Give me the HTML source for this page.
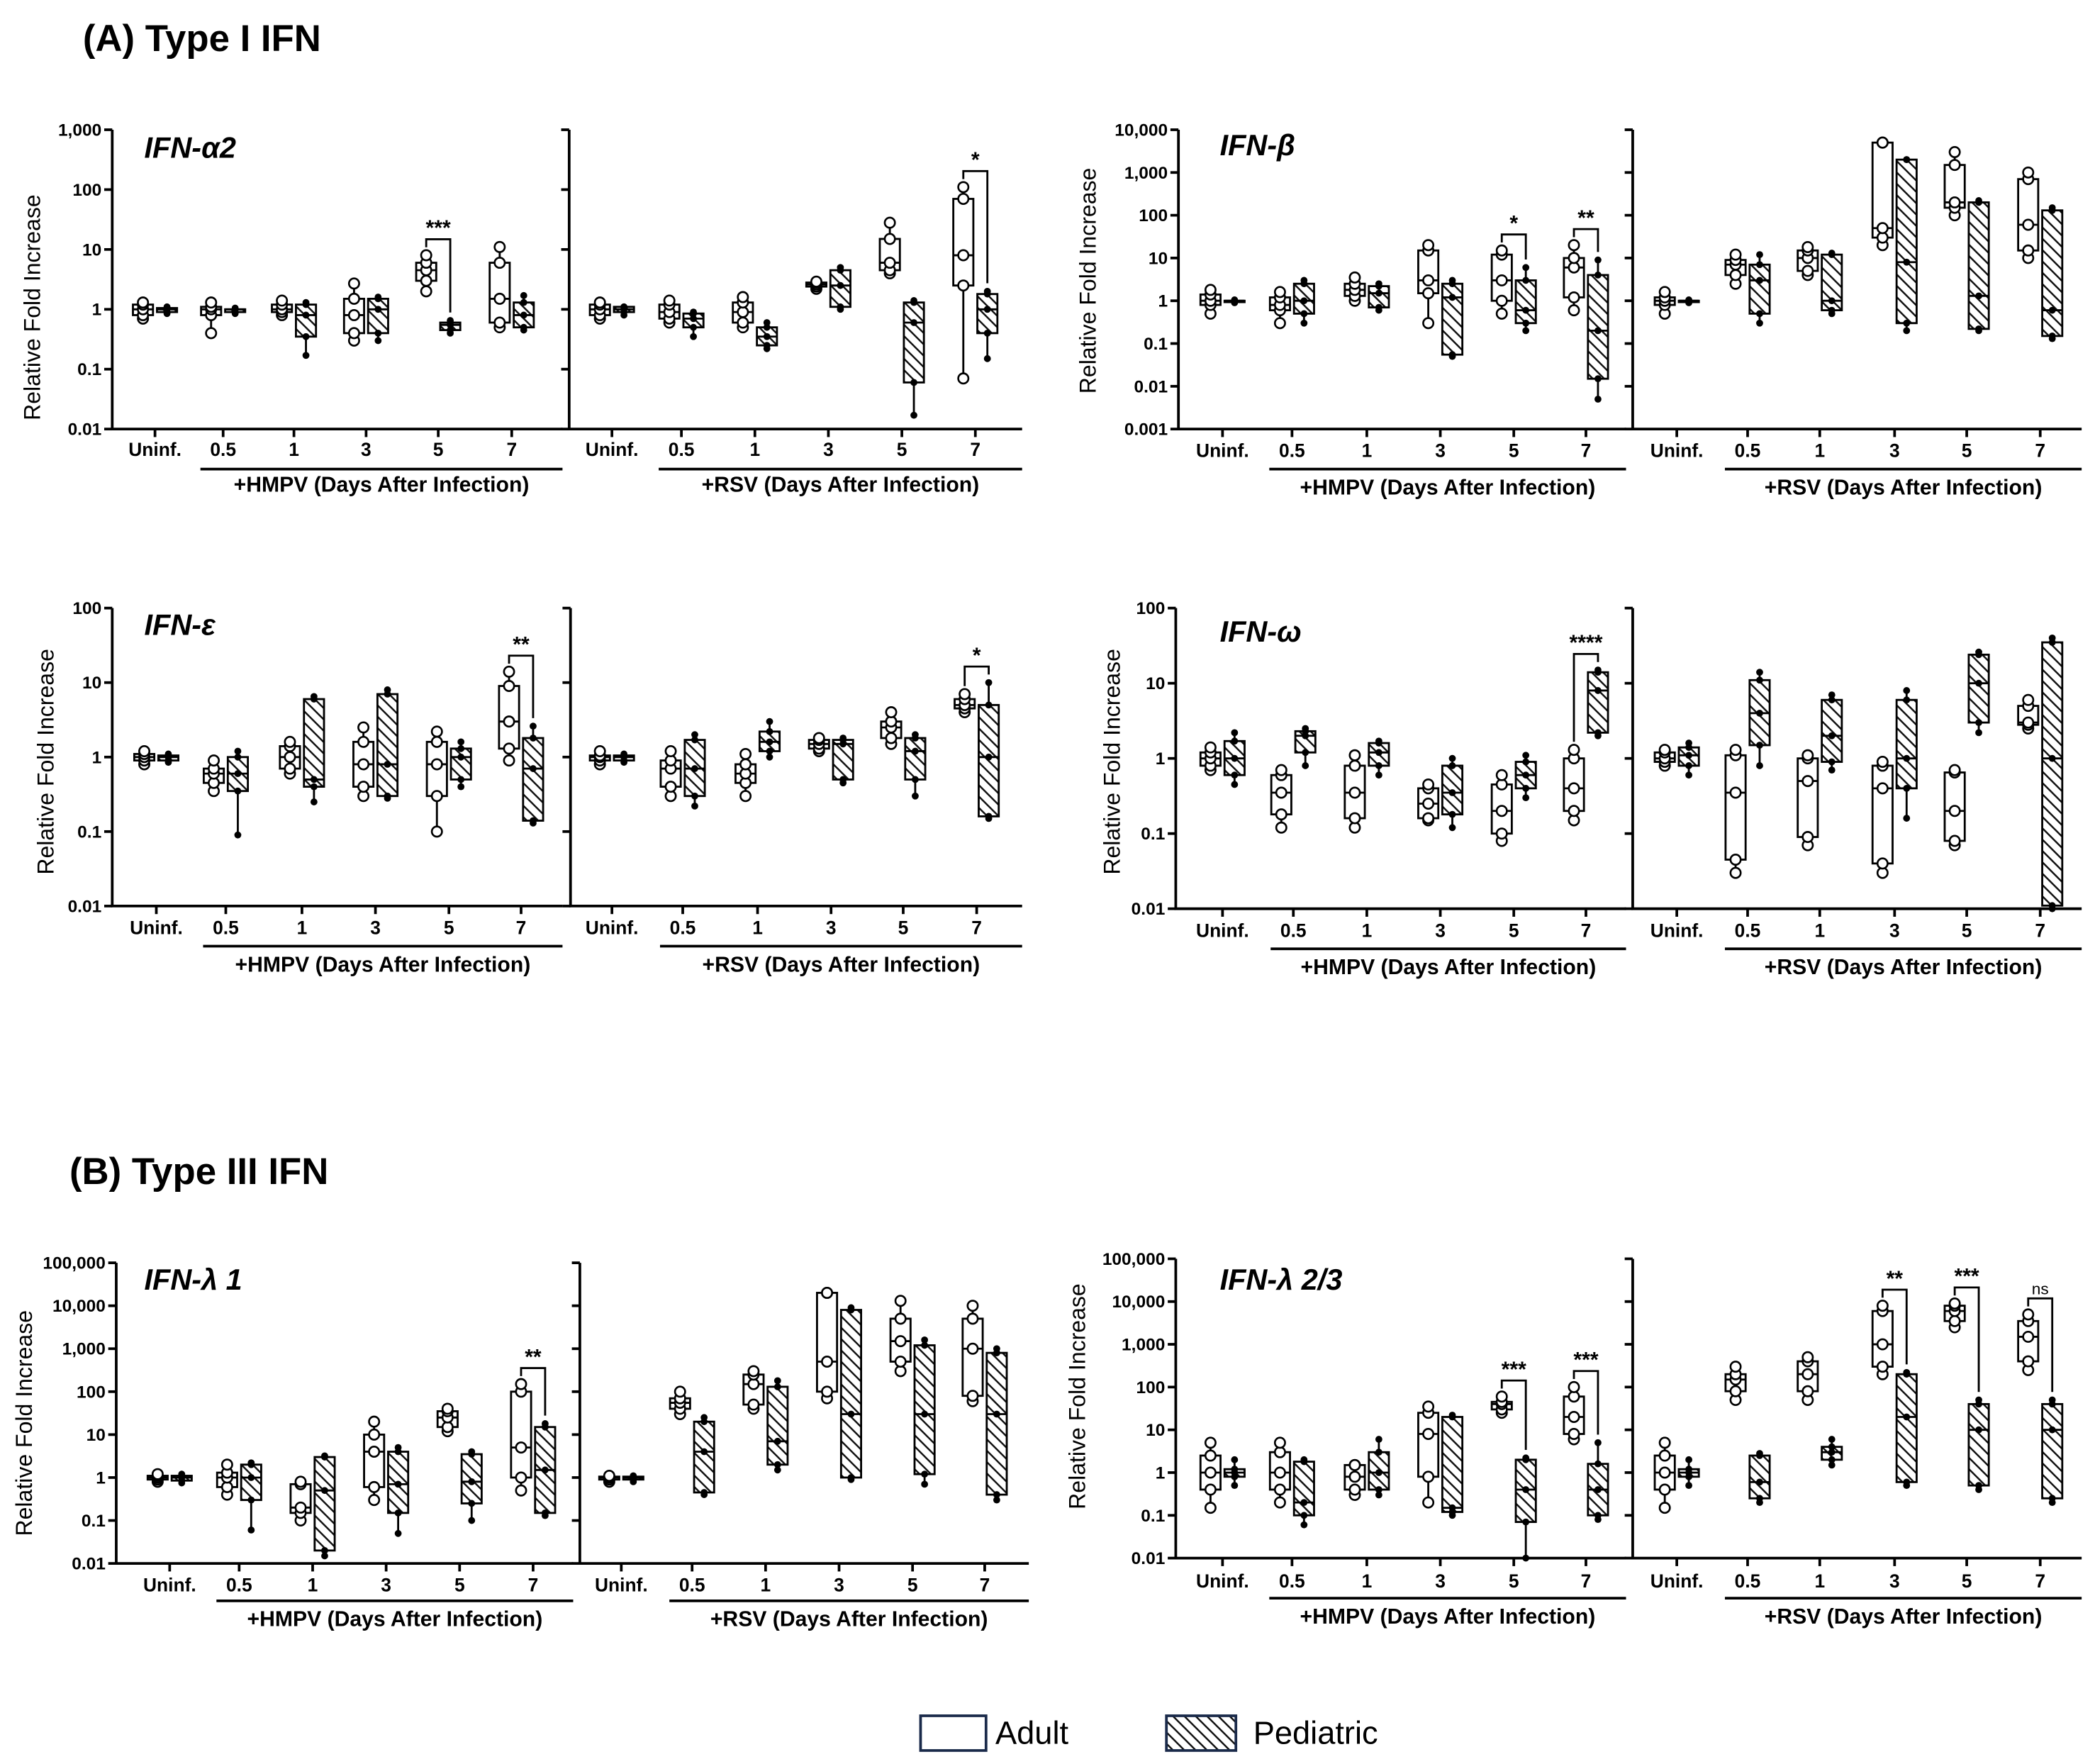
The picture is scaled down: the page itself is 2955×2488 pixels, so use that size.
<!DOCTYPE html>
<html><head><meta charset="utf-8">
<style>
html,body{margin:0;padding:0;background:#fff;}
svg{display:block;font-family:"Liberation Sans",Arial,sans-serif;}
</style></head>
<body>
<svg id="fig" width="2955" height="2488" viewBox="0 0 1568 1320" xmlns="http://www.w3.org/2000/svg">
<defs>
<pattern id="hatch" patternUnits="userSpaceOnUse" width="6" height="6" patternTransform="rotate(-45)">
<rect width="6" height="6" fill="#fff"/>
<line x1="0" y1="0" x2="0" y2="6" stroke="#111" stroke-width="2.6"/>
</pattern>
</defs>
<text x="62" y="38" font-size="28" font-weight="bold">(A)  Type I IFN</text>
<text x="52" y="886" font-size="28" font-weight="bold">(B) Type III IFN</text>
<g>
<rect x="689" y="1284" width="49" height="26" fill="#fff" stroke="#1a2a4a" stroke-width="2"/>
<text x="745" y="1305" font-size="24">Adult</text>
<rect x="873" y="1284" width="52" height="26" fill="url(#hatch)" stroke="#1a2a4a" stroke-width="2"/>
<text x="938" y="1305" font-size="24">Pediatric</text>
</g>
</svg>
<script>
const groups = ["Uninf.","0.5","1","3","5","7"];
// [min,q1,median,q3,max] per group
const a1HmpvAdult=[[0.7,0.8,1,1.2,1.3],[0.4,0.8,1,1.1,1.3],[0.8,0.9,1,1.2,1.4],[0.3,0.4,0.8,1.5,2.7],[2,3,4.5,6,8],[0.5,0.6,1.5,6,11]];
const a1HmpvPed=[[0.85,0.9,1,1.05,1.1],[0.85,0.9,1,1,1.05],[0.17,0.35,0.8,1.2,1.3],[0.3,0.4,1,1.5,1.6],[0.4,0.45,0.55,0.6,0.65],[0.45,0.5,0.8,1.3,1.7]];
const a1RsvAdult=[[0.7,0.8,1,1.2,1.3],[0.6,0.7,0.9,1.2,1.4],[0.5,0.6,0.9,1.3,1.6],[2.2,2.4,2.6,2.8,2.9],[4,4.5,6,15,28],[0.07,2.5,8,70,110]];
const a1RsvPed=[[0.8,0.9,1,1.1,1.1],[0.35,0.5,0.7,0.85,0.9],[0.22,0.25,0.35,0.5,0.6],[1,1.1,2.5,4.5,5],[0.017,0.06,0.6,1.3,1.4],[0.15,0.4,1,1.8,2]];
const a2HmpvAdult=[[0.5,0.8,1,1.4,1.8],[0.3,0.6,0.8,1.2,1.6],[1,1.3,1.8,2.5,3.5],[0.3,1.5,3,15,20],[0.5,1,3,12,15],[0.6,1.2,6,10,20]];
const a2HmpvPed=[[0.9,0.95,1,1,1.05],[0.3,0.5,1,2.5,3],[0.6,0.7,1.5,2.2,2.5],[0.05,0.055,1.2,2.5,3],[0.2,0.3,0.6,3,6],[0.005,0.015,0.2,4,9]];
const a2RsvAdult=[[0.5,0.8,1,1.2,1.6],[2.5,4,7,9,12],[4,5,10,15,18],[20,30,50,5000,5000],[100,150,200,1500,3000],[10,15,60,700,1000]];
const a2RsvPed=[[0.9,0.95,1,1,1.05],[0.3,0.5,3,7,12],[0.5,0.6,1,12,13],[0.2,0.3,8,2000,2000],[0.2,0.22,1.3,200,220],[0.13,0.15,0.6,130,150]];
const a3HmpvAdult=[[0.8,0.9,1,1.1,1.2],[0.35,0.45,0.6,0.7,0.9],[0.6,0.7,1,1.4,1.6],[0.3,0.4,0.8,1.6,2.5],[0.1,0.3,0.8,1.6,2.2],[0.9,1.3,3,9,14]];
const a3HmpvPed=[[0.85,0.9,1,1.05,1.1],[0.09,0.35,0.6,1,1.2],[0.25,0.4,0.5,6,6.5],[0.28,0.3,0.8,7,8],[0.4,0.5,1,1.3,1.6],[0.13,0.14,0.7,1.8,2.6]];
const a3RsvAdult=[[0.8,0.9,1,1.05,1.2],[0.3,0.4,0.7,0.9,1.2],[0.3,0.45,0.6,0.8,1.1],[1.2,1.3,1.5,1.7,1.8],[1.5,1.8,2.5,3,4],[4,4.5,5,6,7]];
const a3RsvPed=[[0.85,0.9,1,1.05,1.1],[0.22,0.3,0.7,1.7,2],[1,1.2,1.6,2.2,3],[0.45,0.5,1.5,1.7,1.8],[0.3,0.5,1.2,1.8,2],[0.15,0.16,1,5,10]];
const a4HmpvAdult=[[0.7,0.8,1,1.2,1.4],[0.12,0.18,0.35,0.6,0.7],[0.12,0.16,0.35,0.8,1.1],[0.15,0.16,0.25,0.4,0.45],[0.08,0.1,0.2,0.45,0.6],[0.15,0.2,0.4,1,1.3]];
const a4HmpvPed=[[0.45,0.6,1,1.7,2.2],[0.8,1.2,2,2.3,2.5],[0.6,0.8,1.2,1.6,1.7],[0.12,0.18,0.35,0.8,1],[0.3,0.4,0.6,0.9,1.1],[2,2.2,8,14,15]];
const a4RsvAdult=[[0.8,0.9,1,1.2,1.3],[0.03,0.045,0.35,1.1,1.3],[0.07,0.09,0.5,1,1.1],[0.03,0.04,0.4,0.8,0.9],[0.07,0.08,0.2,0.65,0.7],[2.5,2.8,3,5,6]];
const a4RsvPed=[[0.6,0.8,1.1,1.4,1.6],[0.8,1.5,4,11,14],[0.7,0.9,2,6,7],[0.16,0.4,1,6,8],[2.2,3,10,24,26],[0.01,0.011,1,35,40]];
const b1HmpvAdult=[[0.8,0.9,1,1.1,1.2],[0.4,0.6,1,1.3,2],[0.1,0.15,0.2,0.7,0.8],[0.3,0.6,4,10,20],[12,15,25,35,40],[0.5,1,5,100,150]];
const b1HmpvPed=[[0.75,0.85,1,1.1,1.2],[0.06,0.3,1,2,2.2],[0.015,0.02,0.5,3,3.2],[0.05,0.15,0.7,4,5],[0.1,0.25,0.8,3.5,4],[0.13,0.15,1.5,15,18]];
const b1RsvAdult=[[0.8,0.9,1,1.05,1.1],[30,40,55,70,100],[40,50,150,250,300],[70,100,500,20000,20000],[300,500,1500,5000,13000],[60,80,1000,5000,10000]];
const b1RsvPed=[[0.8,0.9,1,1.05,1.1],[0.4,0.45,4,20,25],[1.5,2,7,130,180],[0.9,1,30,8000,9000],[0.7,1.2,30,1200,1600],[0.3,0.4,30,800,1000]];
const b2HmpvAdult=[[0.15,0.4,1,2.5,5],[0.2,0.4,1,3,5],[0.3,0.4,0.8,1.5,1.5],[0.2,0.8,8,25,35],[25,30,40,45,60],[6,8,20,60,100]];
const b2HmpvPed=[[0.5,0.8,1,1.2,2],[0.06,0.1,0.2,1.8,2],[0.3,0.4,1,3,6],[0.1,0.12,0.15,20,22],[0.01,0.07,0.4,2,2.2],[0.08,0.1,0.4,1.6,5]];
const b2RsvAdult=[[0.15,0.4,1,2.5,5],[50,80,150,200,300],[50,80,200,400,500],[200,300,1000,6000,8000],[2500,3500,6000,8000,9000],[250,400,1500,3500,5000]];
const b2RsvPed=[[0.5,0.8,1,1.2,2],[0.2,0.25,0.6,2.5,2.8],[1.5,2,3,4,6],[0.5,0.6,20,200,220],[0.4,0.5,10,40,50],[0.2,0.25,10,40,50]];
// significance annotations: [side, groupIndex, label]
const a1Sig=[["L",4,"***"],["R",5,"*"]];
const a2Sig=[["L",4,"*"],["L",5,"**"]];
const a3Sig=[["L",5,"**"],["R",5,"*"]];
const a4Sig=[["L",5,"****"]];
const b1Sig=[["L",5,"**"]];
const b2Sig=[["L",4,"***"],["L",5,"***"],["R",3,"**"],["R",4,"***"],["R",5,"ns"]];

const NS="http://www.w3.org/2000/svg";
const svg=document.getElementById('fig');
function mk(tag,attrs,parent){const e=document.createElementNS(NS,tag);for(const k in attrs)e.setAttribute(k,attrs[k]);(parent||svg).appendChild(e);return e;}
function fmt(e){const v=Math.pow(10,e);if(e<0)return v.toFixed(-e);return v.toLocaleString('en-US');}

const panels=[
 {id:"ifn-a2",title:"IFN-",greek:"α",suffix:"2",ax:84,rx:426,endL:421,endR:765,top:97,bot:321,minE:-2,maxE:3,
  catL:[116,167,220,274,328,383],catR:[458,510,565,620,675,730],labY:341,lineY:351,txtY:368,ytX:30,ytY:230,titleX:108,titleY:118,
  data:[a1HmpvAdult,a1HmpvPed,a1RsvAdult,a1RsvPed],sig:a1Sig},
 {id:"ifn-b",title:"IFN-",greek:"β",suffix:"",ax:882,rx:1222,endL:1217,endR:1558,top:97,bot:321,minE:-3,maxE:4,
  catL:[915,967,1023,1078,1133,1187],catR:[1255,1308,1362,1418,1472,1527],labY:342,lineY:351,txtY:370,ytX:820,ytY:210,titleX:913,titleY:116,
  data:[a2HmpvAdult,a2HmpvPed,a2RsvAdult,a2RsvPed],sig:a2Sig},
 {id:"ifn-e",title:"IFN-",greek:"ε",suffix:"",ax:84,rx:427,endL:421,endR:765,top:455,bot:678,minE:-2,maxE:2,
  catL:[117,169,226,281,336,390],catR:[458,511,567,622,676,731],labY:699,lineY:708,txtY:727,ytX:40,ytY:570,titleX:108,titleY:475,
  data:[a3HmpvAdult,a3HmpvPed,a3RsvAdult,a3RsvPed],sig:a3Sig},
 {id:"ifn-w",title:"IFN-",greek:"ω",suffix:"",ax:880,rx:1222,endL:1217,endR:1558,top:455,bot:680,minE:-2,maxE:2,
  catL:[915,968,1023,1078,1133,1187],catR:[1255,1308,1362,1418,1472,1527],labY:701,lineY:710,txtY:729,ytX:838,ytY:570,titleX:913,titleY:480,
  data:[a4HmpvAdult,a4HmpvPed,a4RsvAdult,a4RsvPed],sig:a4Sig},
 {id:"ifn-l1",title:"IFN-",greek:"λ",suffix:" 1",ax:87,rx:434,endL:429,endR:770,top:945,bot:1170,minE:-2,maxE:5,
  catL:[127,179,234,289,344,399],catR:[465,518,573,628,683,737],labY:1191,lineY:1198,txtY:1217,ytX:24,ytY:1065,titleX:108,titleY:965,
  data:[b1HmpvAdult,b1HmpvPed,b1RsvAdult,b1RsvPed],sig:b1Sig},
 {id:"ifn-l23",title:"IFN-",greek:"λ",suffix:" 2/3",ax:880,rx:1222,endL:1217,endR:1558,top:942,bot:1166,minE:-2,maxE:5,
  catL:[915,967,1023,1078,1133,1187],catR:[1255,1308,1362,1418,1472,1527],labY:1188,lineY:1196,txtY:1215,ytX:812,ytY:1045,titleX:913,titleY:965,
  data:[b2HmpvAdult,b2HmpvPed,b2RsvAdult,b2RsvPed],sig:b2Sig}
];

panels.forEach(p=>{
 const g=mk('g',{});
 
 
 const y=v=>{const e=Math.log10(Math.max(v,Math.pow(10,p.minE)));return p.bot-(e-p.minE)/(p.maxE-p.minE)*(p.bot-p.top);};
 const yt=mk('text',{x:p.ytX,y:p.ytY,'font-size':17,'text-anchor':'middle',transform:`rotate(-90 ${p.ytX} ${p.ytY})`},g);
 yt.textContent="Relative Fold Increase";
 
 
 const tt=mk('text',{x:p.titleX,y:p.titleY,'font-size':22,'font-weight':'bold','font-style':'italic'},g);
 tt.textContent=p.title+p.greek+p.suffix;
 
 
 [[p.ax,p.endL,true],[p.rx,p.endR,false]].forEach(([x0,x1,lab])=>{
  const ax=mk('path',{d:`M${x0},${p.top}V${p.bot}H${x1}`,stroke:'#000','stroke-width':2,fill:'none'},g);
  
  
  for(let e=p.minE;e<=p.maxE;e++){
   const yy=y(Math.pow(10,e));
   mk('line',{x1:x0-6,x2:x0,y1:yy,y2:yy,stroke:'#000','stroke-width':2},g);
   if(lab){const t=mk('text',{x:x0-8,y:yy+4.5,'font-size':13,'font-weight':'bold','text-anchor':'end'},g);t.textContent=fmt(e);
    
    }
  }
 });
 const sides=[{cats:p.catL,ad:p.data[0],pe:p.data[1],virus:"+HMPV (Days After Infection)",key:"L"},{cats:p.catR,ad:p.data[2],pe:p.data[3],virus:"+RSV (Days After Infection)",key:"R"}];
 sides.forEach(s=>{
  s.cats.forEach((cx,i)=>{
   mk('line',{x1:cx,x2:cx,y1:p.bot,y2:p.bot+6,stroke:'#000','stroke-width':2},g);
   const t=mk('text',{x:cx,y:p.labY,'font-size':14,'font-weight':'bold','text-anchor':'middle'},g);
   t.textContent=groups[i];
   
   
   [[s.ad[i],cx-9,'adult'],[s.pe[i],cx+9,'pediatric']].forEach(([st,bx,kind])=>{
    const bg=mk('g',{},g);
    
    
    const w=15;
    mk('line',{x1:bx,x2:bx,y1:y(st[0]),y2:y(st[4]),stroke:'#000','stroke-width':1.5},bg);
    mk('rect',{x:bx-w/2,y:y(st[3]),width:w,height:Math.max(1,y(st[1])-y(st[3])),fill:kind==='adult'?'#fff':'url(#hatch)',stroke:'#000','stroke-width':1.5},bg);
    mk('line',{x1:bx-w/2,x2:bx+w/2,y1:y(st[2]),y2:y(st[2]),stroke:'#000','stroke-width':1.5},bg);
    st.forEach(v=>{
     if(kind==='adult')mk('circle',{cx:bx,cy:y(v),r:3.8,fill:'#fff',stroke:'#000','stroke-width':1.4},bg);
     else mk('circle',{cx:bx,cy:y(v),r:2.6,fill:'#000'},bg);
    });
   });
  });
  const x0=s.cats[1]-17,x1=(s.key==='L'?p.endL:p.endR);
  mk('line',{x1:x0,x2:x1,y1:p.lineY,y2:p.lineY,stroke:'#000','stroke-width':2},g);
  const vt=mk('text',{x:(x0+x1)/2,y:p.txtY,'font-size':16,'font-weight':'bold','text-anchor':'middle'},g);
  vt.textContent=s.virus;
  
  
 });
 p.sig.forEach(([side,idx,label])=>{
  const s=side==='L'?sides[0]:sides[1];
  const cx=s.cats[idx];
  const top=Math.min(y(s.ad[idx][4]),y(s.pe[idx][4]))-12;
  const sg=mk('g',{},g);
  
  
  mk('path',{d:`M${cx-9},${y(s.ad[idx][4])-6}V${top}H${cx+9}V${y(s.pe[idx][4])-6}`,stroke:'#000','stroke-width':1.5,fill:'none'},sg);
  const t=mk('text',{x:cx,y:top-3,'font-size':label==='ns'?12:16,'font-weight':label==='ns'?'normal':'bold','text-anchor':'middle'},sg);
  t.textContent=label;
 });
});
</script>
</body></html>
